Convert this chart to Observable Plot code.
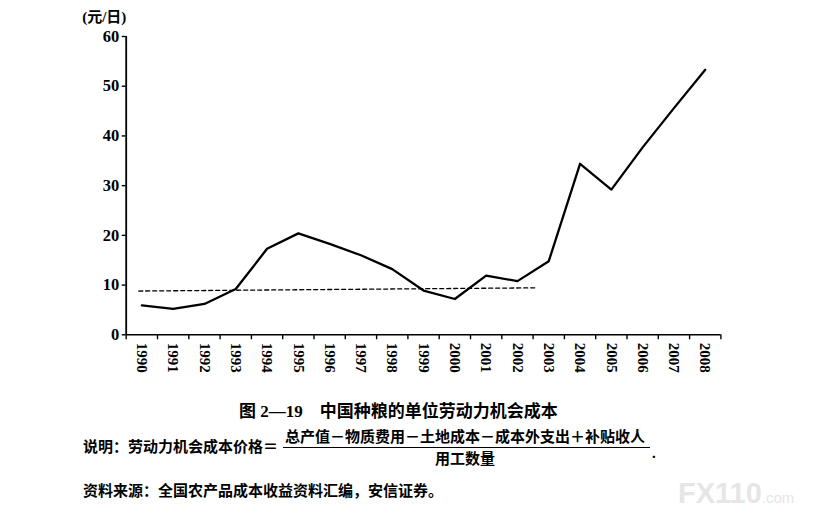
<!DOCTYPE html>
<html><head><meta charset="utf-8">
<script src="https://cdn.jsdelivr.net/npm/d3@7"></script>
<script src="https://cdn.jsdelivr.net/npm/@observablehq/plot@0.6"></script>
<style>
body{margin:0;background:#fff;}
#wrap{position:relative;width:815px;height:523px;overflow:hidden;background:#fff;color:#000;font-family:"Liberation Serif","Noto Sans CJK SC",serif;}
#wrap svg{position:absolute;left:0;top:0;}
.t{position:absolute;white-space:nowrap;font-weight:bold;line-height:1;}
</style></head><body><div id="wrap"></div>
<script>
const years = [1990,1991,1992,1993,1994,1995,1996,1997,1998,1999,2000,2001,2002,2003,2004,2005,2006,2007,2008];
const cost = [5.9,5.2,6.2,9.2,17.3,20.4,18.3,16.0,13.2,8.9,7.2,11.9,10.8,14.8,34.4,29.2,37.7,45.6,53.3];
const trendYears = [1989.9, 2002.6];
const trendValues = [8.8, 9.45];
const yTicks = [0,10,20,30,40,50,60];
const unitLabel = "(元/日)";
const titleText = "图 2—19　中国种粮的单位劳动力机会成本";
const noteLead = "说明：劳动力机会成本价格＝";
const noteNum = "总产值－物质费用－土地成本－成本外支出＋补贴收人";
const noteDen = "用工数量";
const sourceText = "资料来源：全国农产品成本收益资料汇编，安信证券。";

const rows = years.map((y, i) => ({year: y, cost: cost[i]}));
const trend = trendYears.map((y, i) => ({year: y, value: trendValues[i]}));
const xEdges = years.map(y => y - 0.5).concat([years[years.length - 1] + 0.5]);
const yearLabels = years.map(y => ({year: y, label: String(y)}));

const chart = Plot.plot({
  width: 815, height: 385,
  marginTop: 36, marginLeft: 125.7, marginRight: 94.6, marginBottom: 50.7,
  x: {domain: [xEdges[0], xEdges[xEdges.length - 1]]},
  y: {domain: [0, 60]},
  style: {fontFamily: '"Liberation Serif", "Noto Sans CJK SC", serif', fontSize: "15px", fontWeight: "bold", color: "#000", background: "transparent", overflow: "visible"},
  marks: [
    Plot.ruleY([0], {stroke: "#000", strokeWidth: 1.6}),
    Plot.ruleX([xEdges[0]], {stroke: "#000", strokeWidth: 1.8}),
    Plot.axisY({ticks: yTicks, tickSize: 4, tickPadding: 3, label: null, tickFormat: d => String(d), strokeWidth: 1.4, fontSize: 16.5, fontWeight: "bold"}),
    Plot.axisX({ticks: xEdges, tickSize: 5, tickFormat: () => "", label: null, strokeWidth: 1.4}),
    Plot.text(yearLabels, {x: "year", y: () => 0, text: "label", dy: 8, rotate: 90, textAnchor: "start", lineAnchor: "middle", fontSize: 15, fontWeight: "bold"}),
    Plot.line(trend, {x: "year", y: "value", stroke: "#000", strokeWidth: 1.3, strokeDasharray: "4,3"}),
    Plot.line(rows, {x: "year", y: "cost", stroke: "#000", strokeWidth: 2.3}),
    Plot.text([unitLabel], {frameAnchor: "top-left", dx: -44, dy: -19, lineAnchor: "middle", textAnchor: "start", fontSize: 15})
  ]
});
const wrap = document.getElementById("wrap");
wrap.appendChild(chart);

function addText(txt, css) {
  const d = document.createElement("div");
  d.className = "t";
  d.textContent = txt;
  Object.assign(d.style, css);
  wrap.appendChild(d);
  return d;
}
addText(titleText, {left: "239px", top: "403px", fontSize: "17px"});
addText(noteLead, {left: "83px", top: "440px", fontSize: "15px"});
addText(noteNum, {left: "285px", top: "430px", fontSize: "15px"});
const bar = document.createElement("div");
Object.assign(bar.style, {position: "absolute", left: "283px", top: "447px", width: "367px", height: "1.3px", background: "#000"});
wrap.appendChild(bar);
addText(noteDen, {left: "435px", top: "452px", fontSize: "15px"});
addText(".", {left: "652px", top: "446px", fontSize: "15px"});
addText(sourceText, {left: "83px", top: "484px", fontSize: "15px"});
const wm = addText("", {left: "678px", top: "479px", color: "#e6e6e6", fontFamily: '"Liberation Sans", sans-serif'});
wm.innerHTML = '<span style="font-size:29px;font-weight:bold">FX110</span><span style="font-size:15px;font-weight:normal">.com</span>';
</script></body></html>
